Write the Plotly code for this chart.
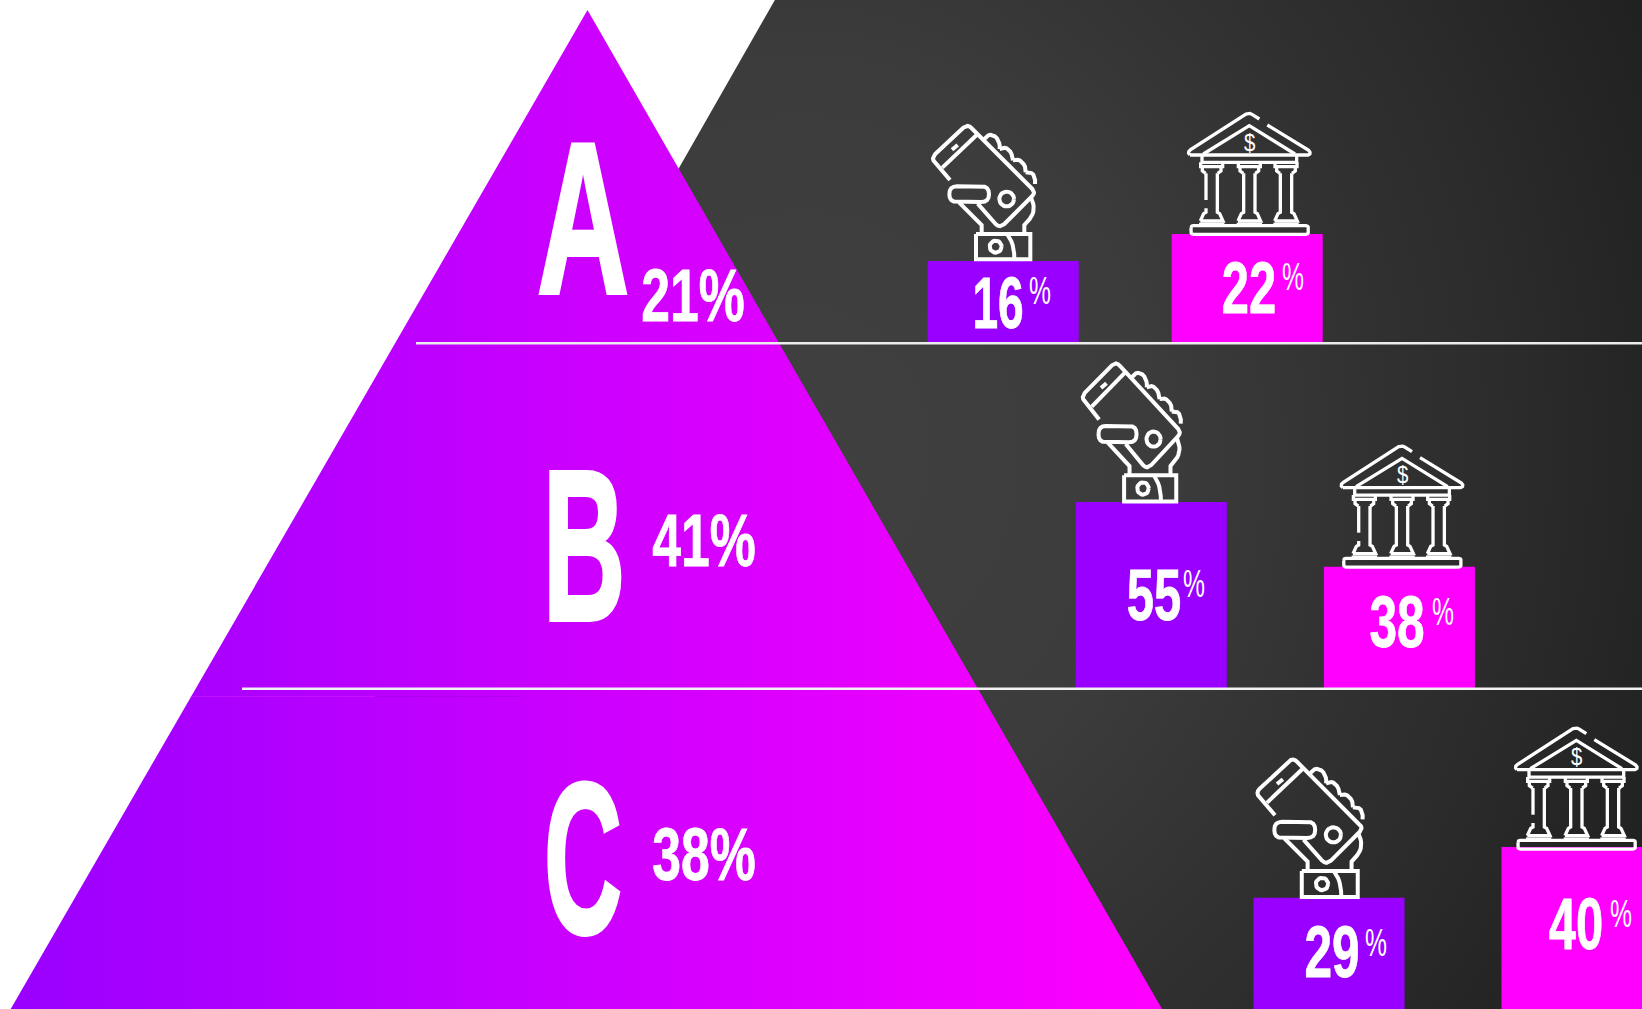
import math
import plotly.graph_objects as go

# ---------- data ----------
tiers = ["A", "B", "C"]
tier_share = [21, 41, 38]
mobile_share = [16, 55, 29]
bank_share = [22, 38, 40]

# ---------- layout constants (pixels of the 1642x1009 canvas) ----------
W, H = 1642, 1009
PURPLE, MAGENTA = "#9900ff", "#ff00ff"
BAR_W = 151
MOBILE_CX = [1003.2, 1151.3, 1329]
BANK_CX = [1247.2, 1399.4, 1577]
# per tier: pixel top, pixel bottom, axis floor value, pixels per percent
TIER_AXES = [(10, 342, -2.0, 4.5), (343, 688, 6.13, 3.806), (689, 1009, 4.8, 4.6)]


def q(p0, c, p1, n=8):
    return [((1-t)**2*p0[0]+2*(1-t)*t*c[0]+t*t*p1[0],
             (1-t)**2*p0[1]+2*(1-t)*t*c[1]+t*t*p1[1]) for t in [i/n for i in range(n+1)]]


def circle(cx, cy, r, n=28):
    return [(cx+r*math.cos(2*math.pi*i/n), cy+r*math.sin(2*math.pi*i/n)) for i in range(n+1)]


def rrect(x0, y0, x1, y1, r):
    return (q((x0, y0+r), (x0, y0), (x0+r, y0), 4) + q((x1-r, y0), (x1, y0), (x1, y0+r), 4)
            + q((x1, y1-r), (x1, y1), (x1-r, y1), 4) + q((x0+r, y1), (x0, y1), (x0, y1-r), 4)
            + [(x0, y0+r)])


# outlines in 3x crop units
PHONE = [
    # phone body
    [(75, 195), (30, 143)] + q((30, 143), (18, 130), (30, 118), 4) + [(115, 38)]
    + q((115, 38), (128, 26), (140, 40), 4) + [(322, 222)] + q((322, 222), (332, 232), (322, 243), 4)
    + [(238, 327)] + q((238, 327), (225, 340), (212, 327), 4) + [(158, 266)],
    [(52, 158), (155, 60)],
    [(81, 104), (98, 90)],
    rrect(73, 214, 192, 261, 23),
    circle(245, 252, 22),
    # fingers
    q((178, 72), (196, 48), (216, 70), 6) + q((216, 70), (226, 84), (224, 102), 4),
    q((224, 102), (248, 90), (260, 118), 6) + [(264, 136)],
    q((264, 136), (288, 128), (300, 155), 6) + [(302, 172)],
    q((302, 172), (334, 168), (330, 207), 6),
    # palm and wrist
    q((318, 248), (336, 285), (314, 312), 8) + [(298, 330), (298, 354)],
    [(102, 262), (170, 330), (170, 354)],
    # cuff and note
    [(153, 357), (316, 357), (316, 433), (153, 433), (153, 357)],
    q((248, 360), (268, 385), (268, 430), 6),
    circle(212, 395, 18),
]
BANK = [
    [(30, 150)] + q((30, 150), (20, 142), (32, 134), 3) + [(198, 27)] + q((198, 27), (207, 22), (216, 28), 3) + [(238, 42)],
    [(262, 60), (386, 136)] + q((386, 136), (396, 146), (384, 150), 3) + [(30, 150)],
    [(70, 147), (208, 62), (345, 147)],
    [(66, 152), (66, 172), (350, 172), (350, 152)],
    rrect(33, 362, 385, 388, 7),
]
for cx in (95, 208, 318):
    BANK += [
        [(cx-33, 172), (cx-33, 185), (cx+33, 185), (cx+33, 172)],
        [(cx-28, 186), (cx-28, 198), (cx-18, 205)],
        [(cx+28, 186), (cx+28, 198), (cx+18, 205)],
        [(cx+17, 205), (cx+17, 322), (cx+24, 326), (cx+34, 348), (cx-34, 348)],
        [(cx-34, 348), (cx-24, 326), (cx-17, 322), (cx-17, 310)] if cx == 95 else
        [(cx-34, 348), (cx-24, 326), (cx-17, 322), (cx-17, 205)],
        [(cx-38, 358), (cx+38, 358)],
    ]
BANK.append([(78, 205), (78, 285)])
PHONE_ORIGIN, BANK_ORIGIN = (925, 115), (1180, 105)
# x shift, y shift, x scale, y scale about the icon's bottom centre
PHONE_OFFSETS = [(0, 0, 1, 1), (147, 242.3, 0.96, 1.035), (326.6, 637.7, 1.03, 1.03)]
BANK_OFFSETS = [(0, 0, 1, 1), (152.7, 332.7, 1, 1), (327, 614.7, 1, 1)]


def place(paths, origin, offsets, anchor):
    xs, ys = [], []
    for dx, dy, sx, sy in offsets:
        for path in paths:
            for px, py in path:
                xs.append(origin[0]+(anchor[0]+(px-anchor[0])*sx)/3+dx)
                ys.append(origin[1]+(anchor[1]+(py-anchor[1])*sy)/3+dy)
            xs.append(None)
            ys.append(None)
    return xs, ys


fig = go.Figure()

# dark backdrop (its slanted edge runs on past the canvas so the glow sits up and to the left)
fig.add_trace(go.Scatter(
    x=[1146, -110, -200, 1800, 1800, 1146], y=[-650, 1550, 1550, 1550, -650, -650],
    mode="lines", line=dict(width=0), fill="toself",
    fillgradient=dict(type="radial", colorscale=[[0, "#404040"], [0.35, "#3c3c3c"], [0.6, "#303030"],
                                                 [0.7, "#2c2c2c"], [0.86, "#242424"], [1, "#1e1e1e"]]),
    hoverinfo="skip", showlegend=False, xaxis="x", yaxis="y"))
# pyramid
fig.add_trace(go.Scatter(
    x=[587.5, 10.7, 1162, 587.5], y=[10, H, H, 10], mode="lines", line=dict(width=0), fill="toself",
    fillgradient=dict(type="horizontal", colorscale=[[0, PURPLE], [1, MAGENTA]]),
    hoverinfo="skip", showlegend=False, xaxis="x", yaxis="y"))

# bars, one value axis per tier
layout_axes = {}
for i, (top, bottom, floor, ppu) in enumerate(TIER_AXES):
    name = f"y{i+2}"
    for cx, v, col, label_ in ((MOBILE_CX[i], mobile_share[i], PURPLE, "Mobile"),
                               (BANK_CX[i], bank_share[i], MAGENTA, "Bank")):
        fig.add_trace(go.Bar(x=[cx], y=[v-floor], base=[floor], width=[BAR_W], marker=dict(color=col, line=dict(width=0)),
                             name=f"{tiers[i]} {label_}", showlegend=False, xaxis="x", yaxis=name))
    layout_axes[f"yaxis{i+2}"] = dict(domain=[1-bottom/H, 1-top/H], range=[floor, floor+(bottom-top)/ppu],
                                      visible=False, anchor="x")

# icons drawn on top of the bars
px, py = place(PHONE, PHONE_ORIGIN, PHONE_OFFSETS, (235, 437))
bx, by = place(BANK, BANK_ORIGIN, BANK_OFFSETS, (209, 392))
fig.add_trace(go.Scatter(x=px, y=py, mode="lines", line=dict(color="white", width=4),
                         connectgaps=False, hoverinfo="skip", showlegend=False, xaxis="x", yaxis="y5"))
fig.add_trace(go.Scatter(x=bx, y=by, mode="lines", line=dict(color="white", width=3.3),
                         connectgaps=False, hoverinfo="skip", showlegend=False, xaxis="x", yaxis="y5"))
layout_axes["yaxis5"] = dict(domain=[0, 1], range=[H, 0], visible=False, anchor="x")

annotations, text_scale = [], []


def label(text, x, y, size, scale, weight=700, stroke=0):
    annotations.append(dict(text=text, x=x, y=y, xref="x", yref="y", showarrow=False, xanchor="center", yanchor="middle",
                            font=dict(family="Liberation Sans Narrow, Liberation Sans", size=size, color="white", weight=weight)))
    text_scale.append((scale, stroke))


LETTER_POS = [(583, 218), (583.5, 545), (583, 858)]
LETTER_FIT = [0.59, 0.53, 0.50]
SHARE_POS = [(693, 295), (703.5, 540), (704, 854)]
for i, t in enumerate(tiers):
    label(t, LETTER_POS[i][0], LETTER_POS[i][1], 216, LETTER_FIT[i], 700, 4)
    label(f"{tier_share[i]}%", SHARE_POS[i][0], SHARE_POS[i][1], 75, 0.69, 700, 0.8)

MOBILE_NUM = [(998, 302.5), (1154, 594.5), (1332, 952)]
MOBILE_PCT = [(1039.5, 291), (1193.5, 583.5), (1375.5, 943)]
BANK_NUM = [(1249, 288), (1396.5, 622), (1576, 923.5)]
BANK_PCT = [(1292.5, 277), (1442.5, 612), (1620.5, 914)]
NUM_FIT = [(0.64, 0.68), (0.68, 0.69), (0.69, 0.68)]
for i in range(3):
    label(str(mobile_share[i]), *MOBILE_NUM[i], 72, NUM_FIT[i][0], 700, 0.8)
    label("%", *MOBILE_PCT[i], 38, 0.65, 400)
    label(str(bank_share[i]), *BANK_NUM[i], 72, NUM_FIT[i][1], 700, 0.8)
    label("%", *BANK_PCT[i], 38, 0.65, 400)
for dx, dy, sx, sy in BANK_OFFSETS:
    label("$", 1249.5+dx, 142+dy, 24, 0.85, 400)

shapes = [
    dict(type="line", xref="x", yref="y", x0=416, x1=W, y0=343.3, y1=343.3, line=dict(color="#ececec", width=2.4)),
    dict(type="line", xref="x", yref="y", x0=242, x1=W, y0=688.8, y1=688.8, line=dict(color="#f2f2f2", width=2.4)),
    dict(type="line", xref="x", yref="y", x0=190, x1=375, y0=696.5, y1=696.5, line=dict(color="rgba(255,60,255,0.25)", width=1.2)),
    dict(type="line", xref="x", yref="y", x0=375, x1=520, y0=696.5, y1=696.5, line=dict(color="rgba(120,0,190,0.25)", width=1.2)),
]

fig.update_layout(
    width=W, height=H, margin=dict(l=0, r=0, t=0, b=0, pad=0), paper_bgcolor="white", plot_bgcolor="rgba(0,0,0,0)",
    showlegend=False, barmode="overlay", annotations=annotations, shapes=shapes,
    xaxis=dict(range=[0, W], visible=False, domain=[0, 1], fixedrange=True),
    yaxis=dict(range=[H, 0], visible=False, domain=[0, 1], fixedrange=True),
    **layout_axes)

post = """
document.body.style.margin='0';document.documentElement.style.overflow='hidden';
var k=%s;
document.querySelectorAll('.annotation-text').forEach(function(t,i){
  var c=k[i];if(!c)return;
  t.style.transformBox='fill-box';t.style.transformOrigin='center';t.style.transform='scaleX('+c[0]+')';
  if(c[1]){t.style.stroke='white';t.style.strokeWidth=c[1]+'px';}
});
""" % str([list(s) for s in text_scale])
fig.write_html("out.html", post_script=post, config=dict(displayModeBar=False))
